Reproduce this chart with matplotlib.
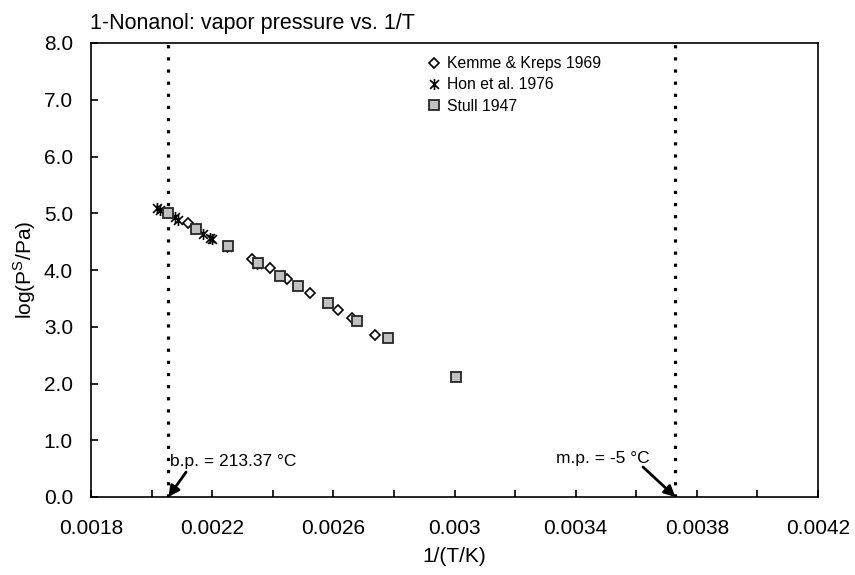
import matplotlib
matplotlib.use('Agg')
import matplotlib.pyplot as plt
from matplotlib.path import Path

plt.rcParams['font.family'] = ['Liberation Sans', 'DejaVu Sans']

# data: x = 1/(T/K), y = log10(P/Pa)
kk_x = [0.002121, 0.002330, 0.002391, 0.002446, 0.002524, 0.002616, 0.002661, 0.002738]
kk_y = [4.83, 4.19, 4.03, 3.85, 3.59, 3.30, 3.15, 2.86]

hon_x = [0.002017, 0.002028, 0.002077, 0.002088, 0.002169, 0.002193, 0.002198, 0.002249, 0.002348]
hon_y = [5.09, 5.06, 4.93, 4.88, 4.63, 4.56, 4.54, 4.40, 4.10]

stull_x = [0.002053, 0.002145, 0.002251, 0.002352, 0.002423, 0.002483, 0.002581, 0.002679, 0.002782, 0.003004]
stull_y = [5.01, 4.72, 4.42, 4.12, 3.90, 3.71, 3.42, 3.11, 2.81, 2.12]

bp_C = 213.37
mp_C = -5.0
x_bp = 1.0 / (bp_C + 273.15)
x_mp = 1.0 / (mp_C + 273.15)

# star marker like excel: vertical bar plus an X
star = Path([(0, -1), (0, 1), (-0.8, -0.8), (0.8, 0.8), (-0.8, 0.8), (0.8, -0.8)],
            [Path.MOVETO, Path.LINETO, Path.MOVETO, Path.LINETO, Path.MOVETO, Path.LINETO])

fig = plt.figure(figsize=(8.55, 5.75), dpi=100)
ax = fig.add_axes([91/855, 1 - 497/575, 727/855, 454/575])

ax.plot(kk_x, kk_y, ls='none', marker='D', ms=5, mfc='white', mec='black', mew=1.2,
        label='Kemme & Kreps 1969')
ax.plot(hon_x, hon_y, ls='none', marker=star, ms=8, mfc='none', mec='black', mew=1.2,
        label='Hon et al. 1976')
ax.plot(stull_x, stull_y, ls='none', marker='s', ms=7.3, mfc='#c0c0c0', mec='#262626', mew=1.3,
        label='Stull 1947')

# boiling / melting point lines
for xv in (x_bp, x_mp):
    ax.axvline(xv, color='black', lw=2.3, ls=(0, (1, 2.8)), dash_capstyle='butt', zorder=1)

arrow = dict(arrowstyle='-|>', color='black', lw=2, mutation_scale=16, shrinkA=0, shrinkB=0)
ax.annotate('', xy=(x_bp, 0), xytext=(0.002114, 0.44), arrowprops=arrow)
ax.text(0.002268, 0.62, 'b.p. = %.2f °C' % bp_C, ha='center', va='center', fontsize=12.5)
ax.annotate('', xy=(x_mp, 0), xytext=(0.003622, 0.53), arrowprops=arrow)
ax.text(0.003490, 0.687, 'm.p. = %g °C' % mp_C, ha='center', va='center', fontsize=12.5)

ax.set_xlim(0.0018, 0.0042)
ax.set_ylim(0, 8)
ax.set_xticks([0.0018, 0.0022, 0.0026, 0.0030, 0.0034, 0.0038, 0.0042])
ax.set_xticklabels(['0.0018', '0.0022', '0.0026', '0.003', '0.0034', '0.0038', '0.0042'])
ax.set_xticks([0.0020, 0.0024, 0.0028, 0.0032, 0.0036, 0.0040], minor=True)
ax.set_yticks(range(9))
ax.set_yticklabels(['%.1f' % v for v in range(9)])
ax.tick_params(axis='both', which='both', direction='in', length=5, width=1.2, labelsize=15)
ax.tick_params(axis='x', pad=16)
ax.tick_params(axis='y', pad=13)
for s in ax.spines.values():
    s.set_linewidth(1.2)

ax.set_xlabel('1/(T/K)', fontsize=15, labelpad=6)
ax.set_ylabel('log(P$^\\mathregular{S}$/Pa)', fontsize=15, labelpad=4)
fig.text(90/855, 1 - 24/575, '1-Nonanol: vapor pressure vs. 1/T', fontsize=15.5, va='center', ha='left')

ax.legend(loc='upper left', bbox_to_anchor=(0.455, 0.985), frameon=False, fontsize=11.3,
          handlelength=0.8, handletextpad=0.4, labelspacing=0.4, borderaxespad=0)

fig.savefig('out.png', dpi=100)
